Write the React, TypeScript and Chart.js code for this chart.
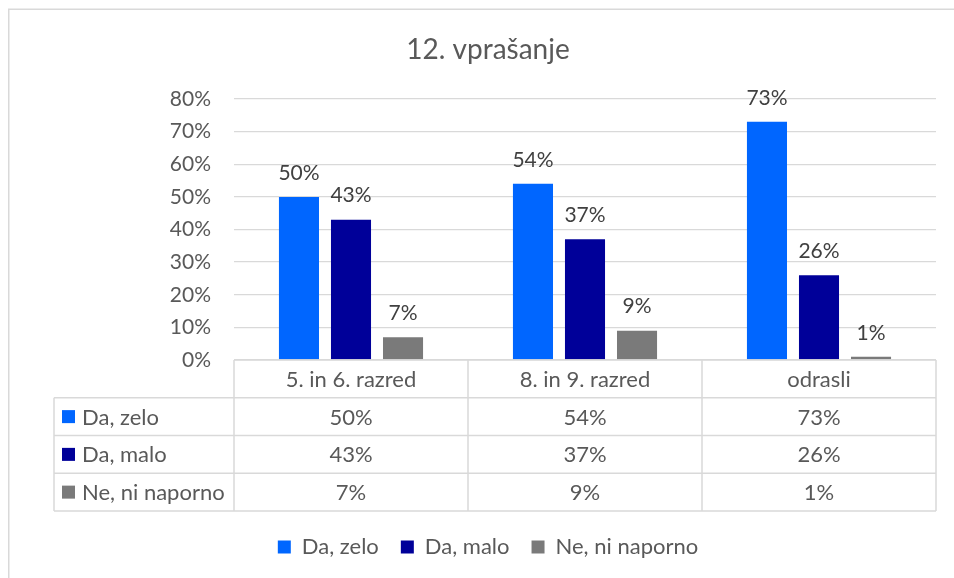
import { useEffect, useRef } from "react";
import { Chart, registerables } from "chart.js";

Chart.register(...registerables);

const TITLE = "12. vprašanje";
const categories = ["5. in 6. razred", "8. in 9. razred", "odrasli"];
const seriesNames = ["Da, zelo", "Da, malo", "Ne, ni naporno"];
const daZelo = [0.5, 0.54, 0.73];
const daMalo = [0.43, 0.37, 0.26];
const neNiNaporno = [0.07, 0.09, 0.01];
const seriesColors = ["#0066FF", "#000099", "#7A7A7A"];
const yMin = 0;
const yMax = 0.8;
const yStep = 0.1;

const FONT = "Lato, 'Open Sans', sans-serif";
const TEXT = "#595959";
const LINE = "#D9D9D9";

const pct = (v: number) => Math.round(v * 100) + "%";

const framePlugin = {
  id: "frame",
  beforeDraw(chart: any) {
    const { ctx, width, height } = chart;
    ctx.save();
    ctx.fillStyle = "#FFFFFF";
    ctx.fillRect(0, 0, width, height);
    ctx.strokeStyle = LINE;
    ctx.lineWidth = 1.5;
    ctx.strokeRect(0.75, 1.25, width - 2, height - 2);
    ctx.restore();
  },
};

const labelPlugin = {
  id: "barLabels",
  afterDatasetsDraw(chart: any) {
    const { ctx } = chart;
    ctx.save();
    ctx.font = `21px ${FONT}`;
    ctx.fillStyle = "#404040";
    ctx.textAlign = "center";
    ctx.textBaseline = "middle";
    chart.data.datasets.forEach((ds: any, i: number) => {
      const meta = chart.getDatasetMeta(i);
      meta.data.forEach((bar: any, j: number) => {
        ctx.fillText(pct(ds.data[j]), bar.x, bar.y - 24);
      });
    });
    ctx.restore();
  },
};

const tablePlugin = {
  id: "dataTable",
  afterDraw(chart: any) {
    const { ctx, chartArea, scales } = chart;
    const xs = scales.x;
    const datasets = chart.data.datasets;
    const labels = chart.data.labels as string[];
    const top = chartArea.bottom;
    const rowH = 37.75;
    const tableLeft = 46;
    const nRows = datasets.length + 1;
    const bottom = top + nRows * rowH;
    const colW = (chartArea.right - chartArea.left) / labels.length;

    ctx.save();
    ctx.strokeStyle = LINE;
    ctx.lineWidth = 1.5;
    ctx.beginPath();
    ctx.moveTo(chartArea.left, top);
    ctx.lineTo(chartArea.right, top);
    for (let r = 1; r <= nRows; r++) {
      const y = top + r * rowH;
      ctx.moveTo(tableLeft, y);
      ctx.lineTo(chartArea.right, y);
    }
    ctx.moveTo(tableLeft, top + rowH);
    ctx.lineTo(tableLeft, bottom);
    for (let c = 0; c <= labels.length; c++) {
      const x = chartArea.left + c * colW;
      ctx.moveTo(x, top);
      ctx.lineTo(x, bottom);
    }
    ctx.stroke();

    ctx.font = `22px ${FONT}`;
    ctx.fillStyle = TEXT;
    ctx.textBaseline = "middle";
    ctx.textAlign = "center";
    labels.forEach((lab, i) => {
      ctx.fillText(lab, xs.getPixelForValue(i), top + rowH / 2 + 1);
    });
    datasets.forEach((ds: any, r: number) => {
      const yc = top + (r + 1) * rowH + rowH / 2 + 1;
      ds.data.forEach((v: number, i: number) => {
        ctx.textAlign = "center";
        ctx.fillStyle = TEXT;
        ctx.fillText(pct(v), xs.getPixelForValue(i), yc);
      });
      ctx.fillStyle = ds.backgroundColor;
      ctx.fillRect(tableLeft + 8, yc - 7.5, 13, 13);
      ctx.fillStyle = TEXT;
      ctx.textAlign = "left";
      ctx.fillText(ds.label, tableLeft + 28, yc);
    });
    ctx.restore();
  },
};

export default function App() {
  const ref = useRef<HTMLCanvasElement | null>(null);

  useEffect(() => {
    if (!ref.current) return;
    const seriesValues = [daZelo, daMalo, neNiNaporno];
    const chart = new Chart(ref.current, {
      type: "bar",
      data: {
        labels: categories,
        datasets: seriesNames.map((name, i) => ({
          label: name,
          data: seriesValues[i],
          backgroundColor: seriesColors[i],
          borderWidth: 0,
          categoryPercentage: 0.667,
          barPercentage: 0.77,
        })),
      },
      options: {
        responsive: false,
        animation: false,
        devicePixelRatio: 1,
        layout: { padding: { top: 0, left: 0, right: 0, bottom: 40 } },
        plugins: {
          title: {
            display: true,
            text: TITLE,
            color: TEXT,
            font: { family: FONT, size: 28, weight: "normal", lineHeight: 1.2 },
            padding: { top: 25.2, bottom: 32.2 },
          },
          legend: {
            position: "bottom",
            labels: {
              boxWidth: 13,
              boxHeight: 13,
              padding: 22,
              color: TEXT,
              font: { family: FONT, size: 22 },
            },
          },
          tooltip: { enabled: false },
        },
        scales: {
          x: {
            display: true,
            grid: { display: false },
            border: { display: false },
            ticks: { display: false },
            afterFit: (s: any) => {
              s.height = 154;
            },
          },
          y: {
            min: yMin,
            max: yMax,
            grid: { color: LINE, lineWidth: 1.3, drawTicks: false },
            border: { display: false },
            ticks: {
              stepSize: yStep,
              padding: 23,
              color: TEXT,
              font: { family: FONT, size: 21 },
              callback: (v: any) => pct(Number(v)),
            },
            afterFit: (s: any) => {
              s.width = 226;
            },
          },
          pad: {
            type: "linear",
            position: "right",
            display: true,
            grid: { display: false },
            border: { display: false },
            ticks: { display: false },
            afterFit: (s: any) => {
              s.width = 32;
            },
          },
        },
      } as any,
      plugins: [framePlugin, labelPlugin, tablePlugin],
    });
    return () => chart.destroy();
  }, []);

  return (
    <div
      style={{
        position: "fixed",
        left: 8,
        top: 8,
        width: 946,
        height: 570,
        overflow: "hidden",
      }}
    >
      <canvas ref={ref} width={960} height={600} style={{ display: "block" }} />
    </div>
  );
}
